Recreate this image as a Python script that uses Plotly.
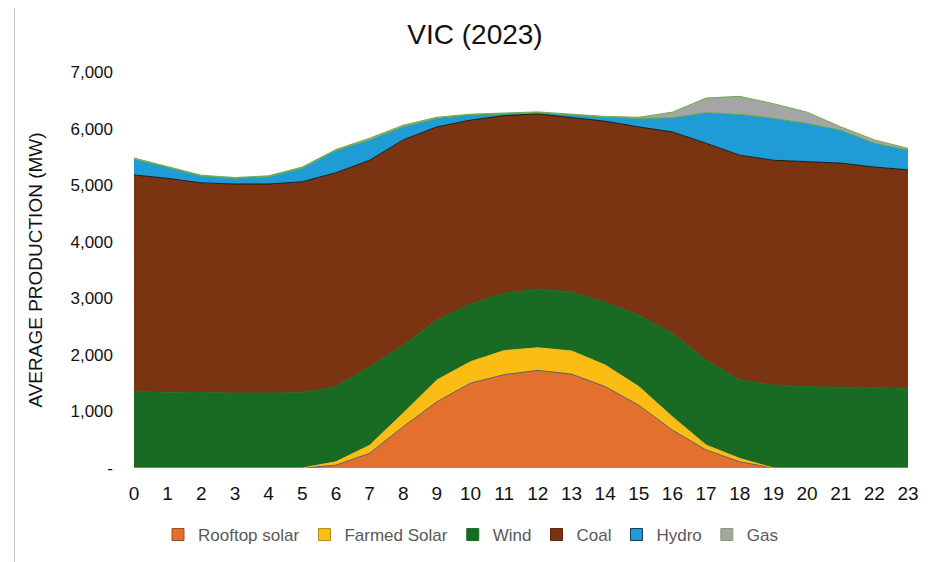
import plotly.graph_objects as go

hours = list(range(24))
rooftop_solar = [0, 0, 0, 0, 0, 0, 50, 260, 730, 1170, 1500, 1650, 1725, 1660, 1440, 1110, 670, 320, 110, 0, 0, 0, 0, 0]
farmed_solar = [0, 0, 0, 0, 0, 0, 60, 140, 240, 385, 380, 425, 400, 410, 380, 330, 235, 85, 60, 0, 0, 0, 0, 0]
wind = [1350, 1340, 1330, 1325, 1325, 1330, 1330, 1390, 1200, 1060, 1020, 1015, 1035, 1040, 1110, 1260, 1475, 1505, 1385, 1465, 1437, 1430, 1420, 1410]
coal = [3830, 3780, 3710, 3695, 3695, 3730, 3780, 3650, 3630, 3415, 3250, 3140, 3100, 3090, 3200, 3330, 3560, 3830, 3975, 3975, 3973, 3960, 3900, 3860]
hydro = [280, 190, 120, 100, 130, 240, 390, 360, 230, 150, 90, 30, 20, 40, 70, 150, 250, 540, 720, 740, 680, 580, 420, 350]
gas = [20, 20, 15, 15, 15, 20, 20, 30, 30, 20, 15, 15, 15, 15, 15, 20, 100, 260, 320, 260, 200, 60, 60, 30]

y_tickvals = [0, 1000, 2000, 3000, 4000, 5000, 6000, 7000]
y_ticktext = ["-", "1,000", "2,000", "3,000", "4,000", "5,000", "6,000", "7,000"]

series = [
    ("Rooftop solar", rooftop_solar, "#E4702E", "#5B5B6B", "#9A4A1E"),
    ("Farmed Solar", farmed_solar, "#FBBD14", "#F2B81A", "#B08A10"),
    ("Wind", wind, "#196B24", "#196B24", "#196B24"),
    ("Coal", coal, "#7A3411", "#1A1A1A", "#5A250C"),
    ("Hydro", hydro, "#1F9BD6", "#5BA548", "#1A3550"),
    ("Gas", gas, "#A5A5A5", "#6DAE47", "#7FA070"),
]

FIG_W, FIG_H = 923, 554
L, R, T, B = 126, 20, 64, 94

fig = go.Figure()
for name, vals, fillc, linec, edgec in series:
    fig.add_trace(go.Scatter(
        x=hours, y=vals, name=name, mode="lines",
        stackgroup="one", fillcolor=fillc,
        line=dict(color=linec, width=1), showlegend=False,
    ))
for name, vals, fillc, linec, edgec in series:
    fig.add_trace(go.Scatter(
        x=[None], y=[None], name=name, mode="markers",
        marker=dict(symbol="square", size=12, color=fillc, line=dict(color=edgec, width=1)),
        showlegend=True,
    ))

fig.update_layout(
    width=FIG_W, height=FIG_H,
    paper_bgcolor="white", plot_bgcolor="white",
    margin=dict(l=L, r=R, t=T, b=B),
    title=dict(text="VIC (2023)", x=467 / FIG_W, xanchor="center", y=1 - 26 / FIG_H, yanchor="middle",
               font=dict(family="Liberation Sans Narrow, Arial Narrow, Liberation Sans, sans-serif", size=28, color="#111111")),
    showlegend=True,
    legend=dict(orientation="h", xref="container", x=463 / FIG_W, xanchor="center",
                yref="container", y=1 - 527 / FIG_H, yanchor="middle",
                font=dict(family="Liberation Sans Narrow, Arial Narrow, Liberation Sans, sans-serif", size=17, color="#595959"),
                itemwidth=30, traceorder="normal", tracegroupgap=0),
    xaxis=dict(range=[0, 23], tickmode="array", tickvals=hours, ticktext=[str(h) for h in hours],
               showgrid=False, zeroline=False, showline=False, ticks="",
               ticklabelstandoff=12,
               tickfont=dict(family="Liberation Sans Narrow, Arial Narrow, Liberation Sans, sans-serif", size=19, color="#111111")),
    yaxis=dict(range=[0, 7000], tickmode="array", tickvals=y_tickvals, ticktext=y_ticktext,
               showgrid=False, zeroline=False, showline=False, ticks="",
               ticklabelstandoff=20,
               tickfont=dict(family="Liberation Sans, Arial, sans-serif", size=17, color="#111111"),
               title=dict(text="AVERAGE PRODUCTION (MW)", standoff=22,
                          font=dict(family="Liberation Sans, Arial, sans-serif", size=19, color="#111111"))),
)

fig.add_shape(type="line", xref="paper", yref="paper",
              x0=(6 - L) / 777, x1=(6 - L) / 777, y0=-B / 396, y1=1 + T / 396,
              line=dict(color="#C4C4C4", width=1))

fig.write_html("out.html")
